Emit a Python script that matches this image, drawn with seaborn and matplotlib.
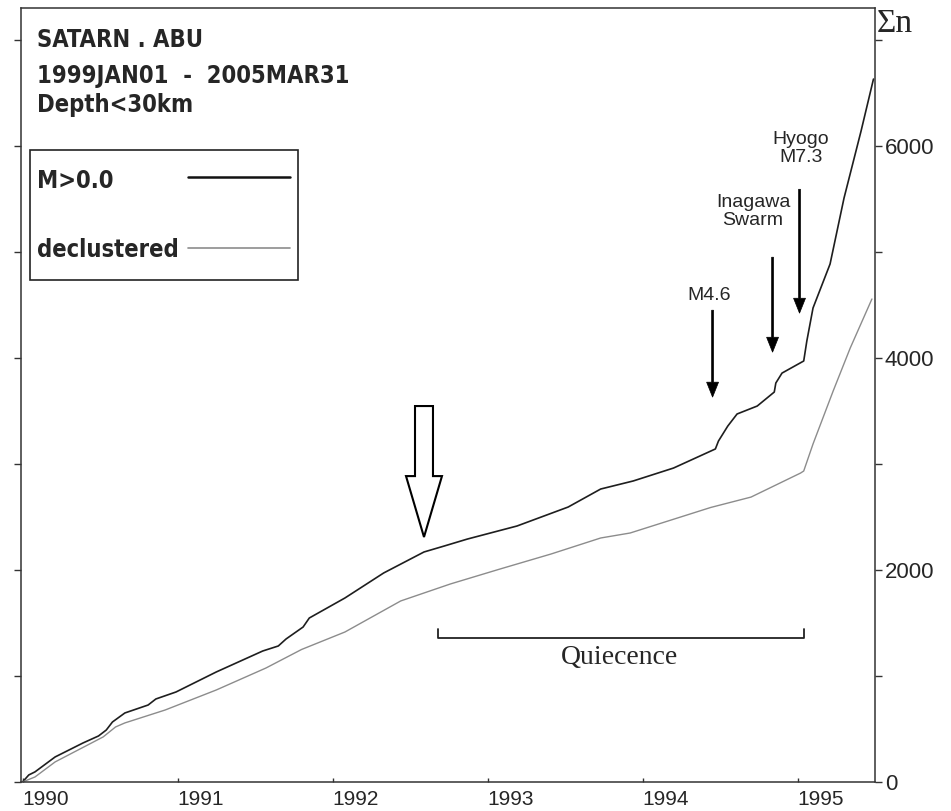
import matplotlib
matplotlib.use("Agg")
import matplotlib.pyplot as plt
from matplotlib import font_manager as fm
from matplotlib.ticker import MultipleLocator
import pandas as pd
import seaborn as sns

# cumulative number of events
main_year = [1990.00, 1990.04, 1990.08, 1990.21, 1990.39, 1990.49, 1990.54, 1990.58,
             1990.66, 1990.81, 1990.86, 1990.99, 1991.25, 1991.55, 1991.65, 1991.70,
             1991.81, 1991.85, 1992.08, 1992.33, 1992.59, 1992.72, 1992.87, 1993.19,
             1993.52, 1993.73, 1993.94, 1994.20, 1994.47, 1994.49, 1994.55, 1994.61,
             1994.74, 1994.85, 1994.86, 1994.90, 1995.04, 1995.06, 1995.10, 1995.21,
             1995.30, 1995.41, 1995.49]
main_n = [0, 66, 95, 236, 368, 434, 490, 566,
          651, 726, 783, 849, 1038, 1236, 1283, 1349,
          1462, 1547, 1736, 1972, 2170, 2226, 2292, 2415,
          2594, 2764, 2840, 2962, 3142, 3217, 3358, 3472,
          3547, 3679, 3764, 3858, 3972, 4160, 4472, 4887,
          5509, 6142, 6632]

decl_year = [1990.00, 1990.08, 1990.21, 1990.52, 1990.60, 1990.66, 1990.92, 1991.25,
             1991.57, 1991.80, 1992.08, 1992.44, 1992.76, 1993.08, 1993.41, 1993.73,
             1993.92, 1994.44, 1994.70, 1995.02, 1995.04, 1995.10, 1995.23, 1995.34,
             1995.48]
decl_n = [0, 47, 189, 425, 519, 557, 679, 868,
          1075, 1250, 1415, 1708, 1868, 2009, 2151, 2302,
          2349, 2590, 2688, 2915, 2934, 3189, 3689, 4094,
          4557]

year_ticks = [1990, 1991, 1992, 1993, 1994, 1995]
title_lines = ["SATARN . ABU", "1999JAN01  -  2005MAR31", "Depth<30km"]

# events marked with arrows: label, label pos, arrow x, arrow top, arrow tip
event_labels = ["M4.6", "Inagawa\nSwarm", "Hyogo\nM7.3"]
event_text_x = [1994.43, 1994.713, 1995.02]
event_text_y = [4545, 5253, 5847]
event_x = [1994.452, 1994.839, 1995.013]
event_top = [4451, 4951, 5592]
event_tip = [3631, 4055, 4423]


def find_narrow(bold):
    # look for a condensed / narrow face, return its file or None
    for f in fm.fontManager.ttflist:
        key = (f.name + " " + f.fname).lower()
        if not ("narrow" in key or "condensed" in key or f.stretch in ("condensed", "semi-condensed")):
            continue
        if "italic" in key or "oblique" in key:
            continue
        is_bold = "bold" in key or f.weight in ("bold", 700)
        if is_bold == bold:
            return f.fname
    return None


narrow_bold = find_narrow(True)
if narrow_bold:
    head_font = fm.FontProperties(fname=narrow_bold, size=17)
else:
    head_font = fm.FontProperties(family="Liberation Sans", weight="bold", size=16)

df = pd.concat([
    pd.DataFrame({"year": main_year, "n": main_n, "set": "M>0.0"}),
    pd.DataFrame({"year": decl_year, "n": decl_n, "set": "declustered"}),
])

sns.set_style("ticks")
plt.rcParams["font.family"] = ["Liberation Sans", "DejaVu Sans"]

fig = plt.figure(figsize=(9.51, 8.11), dpi=100)
ax = fig.add_axes([0.0221, 0.0358, 0.898, 0.954])

sns.lineplot(data=df, x="year", y="n", hue="set",
             palette={"M>0.0": "#1e1e1e", "declustered": "#8c8c8c"},
             ax=ax, legend=False, estimator=None, sort=False)
for line, lw in zip(ax.lines, [1.2, 1.0]):
    line.set_linewidth(lw)

ax.set_xlim(1989.99, 1995.5)
ax.set_ylim(0, 7300)
ax.set_xlabel("")
ax.set_ylabel("")

# axes look
for sp in ax.spines.values():
    sp.set_visible(True)
    sp.set_linewidth(1.1)
    sp.set_color("#333333")
ax.set_xticks(year_ticks)
ax.set_xticklabels([str(y) for y in year_ticks], size=15, ha="left")
ax.yaxis.set_major_locator(MultipleLocator(2000))
ax.yaxis.set_minor_locator(MultipleLocator(1000))
ax.tick_params(axis="y", which="both", left=True, right=True,
               labelleft=False, labelright=True, length=5, width=1, color="#333333",
               labelsize=16, pad=2)
ax.tick_params(axis="x", direction="in", length=3, width=1, color="#333333", pad=6)
ax.grid(False)

fig.text(877 / 951, 1 - 24 / 811, "Σn", family="Liberation Serif", size=24,
         ha="left", va="center")

# title block
for txt, yb in zip(title_lines, [47, 83, 112]):
    ax.text(0.0187, (782 - yb) / 774, txt, transform=ax.transAxes,
            fontproperties=head_font, va="baseline", ha="left")

# hand drawn legend box
ax.add_patch(plt.Rectangle((0.0105, 0.6486), 0.314, 0.168, transform=ax.transAxes,
                           fill=False, ec="#222222", lw=1.2))
ax.text(0.0187, (782 - 188) / 774, "M>0.0", transform=ax.transAxes,
        fontproperties=head_font, va="baseline")
ax.text(0.0187, (782 - 257) / 774, "declustered", transform=ax.transAxes,
        fontproperties=head_font, va="baseline")
ax.plot([0.1956, 0.3150], [0.7817] * 2, transform=ax.transAxes, color="#111111", lw=1.8)
ax.plot([0.1956, 0.3150], [0.6899] * 2, transform=ax.transAxes, color="#8c8c8c", lw=1.2)

# hollow arrow
ax.arrow(1992.59, 3547, 0, 2311 - 3547, width=0.116, head_width=0.232,
         head_length=575, length_includes_head=True, fc="white", ec="black", lw=1.5)

# event arrows
for lab, tx, ty, ex, top, tip in zip(event_labels, event_text_x, event_text_y,
                                     event_x, event_top, event_tip):
    ax.text(tx, ty, lab, ha="center", va="baseline", size=14,
            multialignment="center", linespacing=1.1)
    ax.arrow(ex, top, 0, tip - top, width=0.012, head_width=0.077, head_length=141,
             length_includes_head=True, fc="black", ec="black", lw=0.5)

# quiescence bracket
ax.plot([1992.68, 1992.68, 1995.04, 1995.04], [1443, 1358, 1358, 1443],
        color="#222222", lw=1.3)
ax.text(1993.85, 1113, "Quiecence", ha="center", va="baseline",
        family="Liberation Serif", size=20)

fig.savefig("out.png", dpi=100)
